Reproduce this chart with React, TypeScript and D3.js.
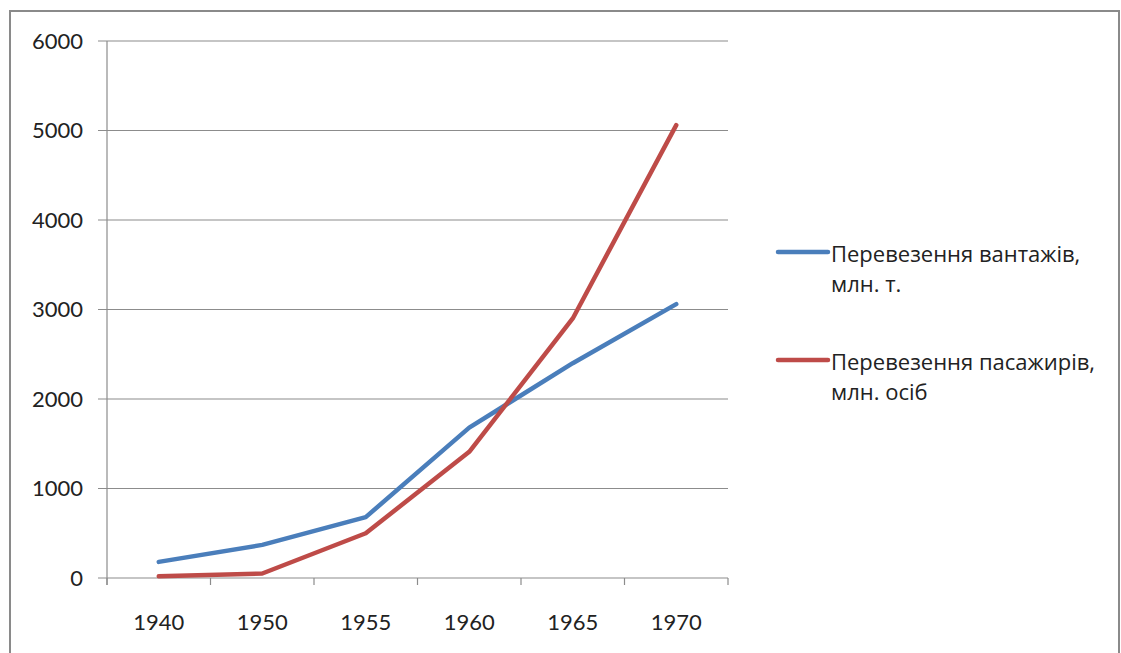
import React from "react";
import * as d3 from "d3";

const years = ["1940", "1950", "1955", "1960", "1965", "1970"];
const cargo = [180, 370, 680, 1680, 2400, 3060];
const passengers = [20, 50, 500, 1410, 2900, 5060];
const yTicks = [0, 1000, 2000, 3000, 4000, 5000, 6000];
const seriesNames = [
  ["Перевезення вантажів,", "млн. т."],
  ["Перевезення пасажирів,", "млн. осіб"],
];
const colors = ["#4a7ebb", "#be4b48"];

const W = 1121;
const H = 653;
const plot = { left: 107, right: 728, top: 41, bottom: 578 };
const font = "Lato, 'Open Sans', sans-serif";
const legendFont = "'Open Sans', Lato, sans-serif";

export default function App() {
  const x = d3
    .scaleBand()
    .domain(years)
    .range([plot.left, plot.right]);
  const y = d3
    .scaleLinear()
    .domain([0, 6000])
    .range([plot.bottom, plot.top]);

  const line = d3
    .line<number>()
    .x((d, i) => (x(years[i]) as number) + x.bandwidth() / 2)
    .y((d) => y(d));

  const series = [cargo, passengers];
  const xTickPos = years.map((yr) => x(yr) as number).concat([plot.right]);

  return (
    <svg
      width={W}
      height={H}
      style={{ position: "absolute", left: 0, top: 0, background: "#fff" }}
    >
      {/* outer frame */}
      <rect x={10} y={11} width={1109} height={680} fill="none" stroke="#8a8a8a" strokeWidth={2} />

      {/* grid + y ticks */}
      {yTicks.map((t) => (
        <g key={t}>
          <line
            x1={plot.left - 9}
            x2={plot.right}
            y1={y(t)}
            y2={y(t)}
            stroke="#8c8c8c"
            strokeWidth={1.2}
          />
          <text
            x={83}
            y={y(t)}
            dy="0.36em"
            textAnchor="end"
            fontFamily={font}
            fontSize={22}
            fill="#222"
          >
            {t}
          </text>
        </g>
      ))}

      {/* y axis */}
      <line x1={plot.left} x2={plot.left} y1={plot.top} y2={plot.bottom + 7} stroke="#8c8c8c" strokeWidth={1.2} />

      {/* x ticks */}
      {xTickPos.map((p, i) => (
        <line key={i} x1={p} x2={p} y1={plot.bottom} y2={plot.bottom + 7} stroke="#8c8c8c" strokeWidth={1.2} />
      ))}
      {years.map((yr) => (
        <text
          key={yr}
          x={(x(yr) as number) + x.bandwidth() / 2}
          y={630}
          textAnchor="middle"
          fontFamily={font}
          fontSize={22}
          fill="#222"
        >
          {yr}
        </text>
      ))}

      {/* series lines */}
      {series.map((s, i) => (
        <path
          key={i}
          d={line(s) || ""}
          fill="none"
          stroke={colors[i]}
          strokeWidth={4.5}
          strokeLinejoin="round"
          strokeLinecap="round"
        />
      ))}

      {/* legend */}
      {seriesNames.map((names, i) => {
        const ly = 252 + i * 108;
        return (
          <g key={i}>
            <line x1={778} x2={828} y1={ly} y2={ly} stroke={colors[i]} strokeWidth={4.5} strokeLinecap="round" />
            {names.map((n, j) => (
              <text
                key={j}
                x={831}
                y={ly + 10 + j * 30}
                fontFamily={legendFont}
                fontSize={22}
                fill="#222"
              >
                {n}
              </text>
            ))}
          </g>
        );
      })}
    </svg>
  );
}
